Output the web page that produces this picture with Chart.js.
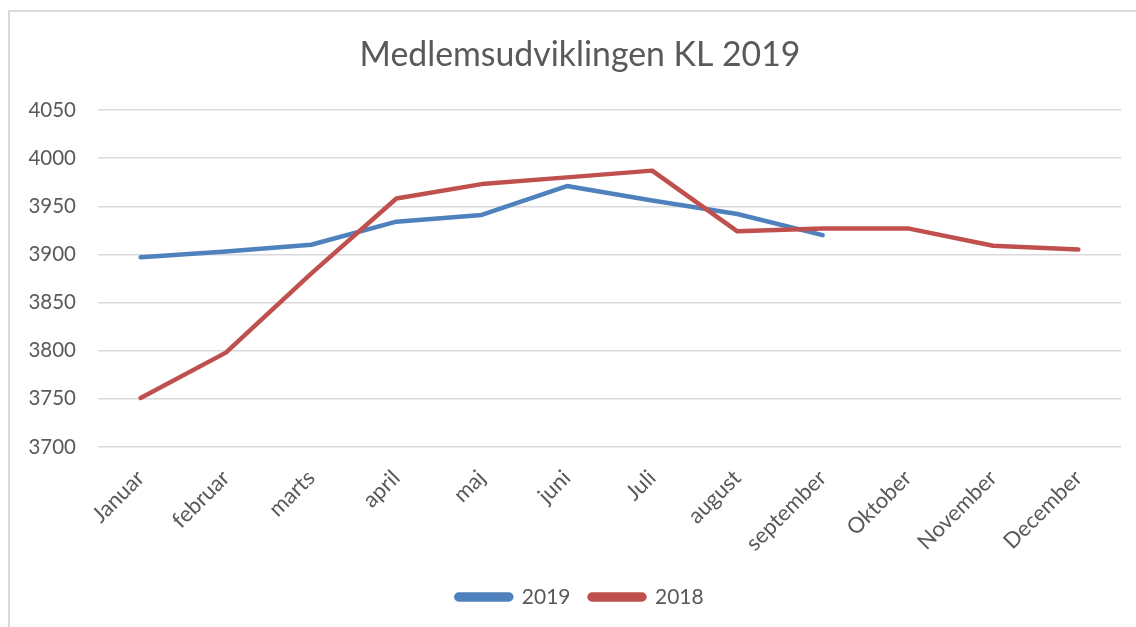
<!DOCTYPE html>
<html>
<head>
<meta charset="utf-8">
<script src="https://cdn.jsdelivr.net/npm/chart.js@4"></script>
<style>
  html, body { margin: 0; padding: 0; background: #fff; width: 1136px; height: 627px; overflow: hidden; }
  #frame { position: absolute; left: 8px; top: 10px; width: 1200px; height: 700px;
           border-left: 2px solid #d9d9d9; border-top: 2px solid #d9d9d9; }
  #wrap { position: absolute; left: 9px; top: 11px; width: 1142px; height: 616px; }
</style>
</head>
<body>
<div id="frame"></div>
<div id="wrap"><canvas id="chart"></canvas></div>
<script>
const months = ['Januar', 'februar', 'marts', 'april', 'maj', 'juni', 'Juli', 'august', 'september', 'Oktober', 'November', 'December'];
const members2019 = [3897, 3903, 3910, 3934, 3941, 3971, 3956, 3942, 3920, null, null, null];
const members2018 = [3751, 3798, 3880, 3958, 3973, 3980, 3987, 3924, 3927, 3927, 3909, 3905];
const yMin = 3700, yMax = 4050, yStep = 50;

const textColor = '#595959';
const fontFamily = 'Lato, "Open Sans", sans-serif';

new Chart(document.getElementById('chart'), {
  type: 'line',
  data: {
    labels: months,
    datasets: [
      { label: '2019', data: members2019, borderColor: '#4f81bd', backgroundColor: '#4f81bd', order: 1 },
      { label: '2018', data: members2018, borderColor: '#c0504d', backgroundColor: '#c0504d', order: 0 }
    ]
  },
  options: {
    responsive: true,
    maintainAspectRatio: false,
    animation: false,
    layout: { padding: { left: 0, right: 0, top: 0, bottom: 9.5 } },
    elements: {
      line: { borderWidth: 4.5, tension: 0, borderCapStyle: 'round', borderJoinStyle: 'round' },
      point: { radius: 0, hoverRadius: 0 }
    },
    plugins: {
      title: {
        display: true,
        text: 'Medlemsudviklingen KL 2019',
        color: textColor,
        font: { family: fontFamily, size: 33.8, weight: 'normal' },
        padding: { top: 23.7, bottom: 34.7 }
      },
      legend: {
        position: 'bottom',
        labels: {
          color: textColor,
          font: { family: fontFamily, size: 21 },
          boxWidth: 55,
          boxHeight: 5,
          useBorderRadius: true,
          borderRadius: 2.5,
          padding: 19,
          sort: (a, b) => a.datasetIndex - b.datasetIndex
        }
      },
      tooltip: { enabled: false }
    },
    scales: {
      x: {
        offset: true,
        grid: { display: false },
        border: { display: false },
        ticks: {
          color: textColor,
          font: { family: fontFamily, size: 22 },
          maxRotation: 45,
          minRotation: 45,
          padding: 10,
          autoSkip: false
        },
        afterFit: s => { s.height = 120.5; }
      },
      y: {
        min: yMin,
        max: yMax,
        grid: { color: '#d9d9d9', lineWidth: 1.5, drawTicks: false },
        border: { display: false },
        ticks: {
          stepSize: yStep,
          color: textColor,
          font: { family: fontFamily, size: 20.5 },
          padding: 22,
          callback: v => String(v)
        },
        afterFit: s => { s.width = 89; }
      },
      spacer: {
        type: 'linear',
        position: 'right',
        grid: { display: false },
        border: { display: false },
        ticks: { display: false },
        afterFit: s => { s.width = 30; }
      }
    }
  }
});
</script>
</body>
</html>
